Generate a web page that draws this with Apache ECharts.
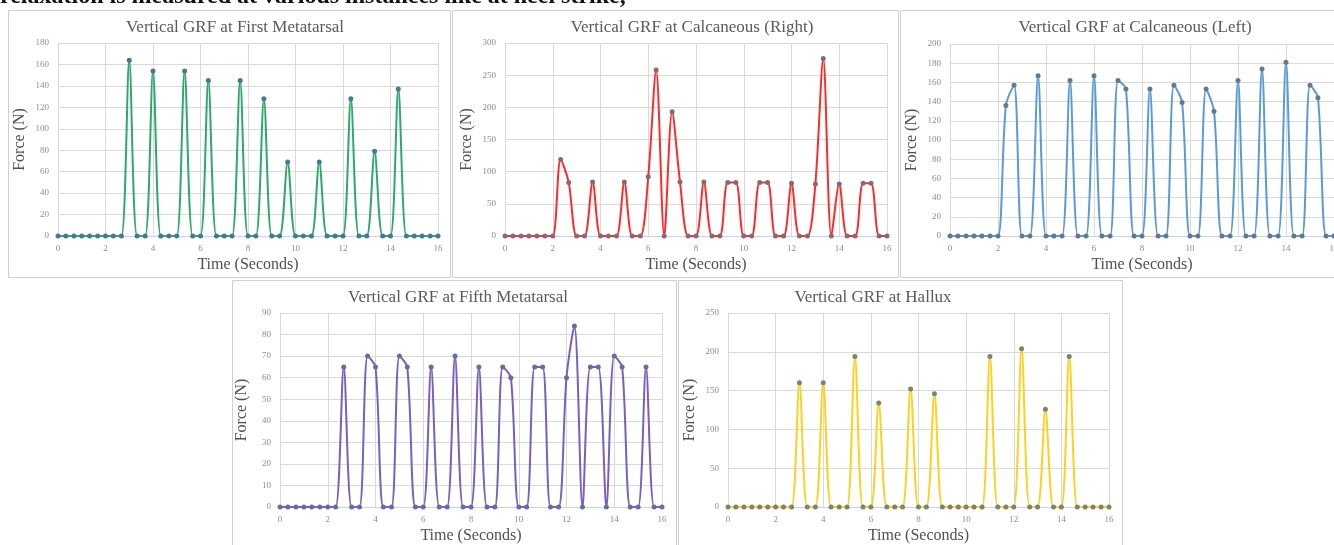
<!DOCTYPE html>
<html>
<head>
<meta charset="utf-8">
<script src="https://cdn.jsdelivr.net/npm/echarts@6/dist/echarts.min.js"></script>
<style>
html,body{margin:0;padding:0;background:#fff;}
#chart{width:1334px;height:545px;}
</style>
</head>
<body>
<div id="chart"></div>
<script>
// Time samples (seconds)
const timeSeconds = [0,0.33,0.67,1,1.33,1.67,2,2.33,2.67,3,3.33,3.67,4,4.33,4.67,5,5.33,5.67,6,6.33,6.67,7,7.33,7.67,8,8.33,8.67,9,9.33,9.67,10,10.33,10.67,11,11.33,11.67,12,12.33,12.67,13,13.33,13.67,14,14.33,14.67,15,15.33,15.67,16];

// Force (N) series
const firstMetatarsal = [0,0,0,0,0,0,0,0,0,164,0,0,154,0,0,0,154,0,0,145,0,0,0,145,0,0,128,0,0,69,0,0,0,69,0,0,0,128,0,0,79,0,0,137,0,0,0,0,0];
const calcaneousRight = [0,0,0,0,0,0,0,119,83,0,0,84,0,0,0,84,0,0,92,258,0,193,84,0,0,84,0,0,83,83,0,0,83,83,0,0,82,0,0,81,276,0,81,0,0,82,82,0,0];
const calcaneousLeft = [0,0,0,0,0,0,0,136,157,0,0,167,0,0,0,162,0,0,167,0,0,162,153,0,0,153,0,0,157,139,0,0,153,130,0,0,162,0,0,174,0,0,181,0,0,157,144,0,0];
const fifthMetatarsal = [0,0,0,0,0,0,0,0,65,0,0,70,65,0,0,70,65,0,0,65,0,0,70,0,0,65,0,0,65,60,0,0,65,65,0,0,60,84,0,65,65,0,70,65,0,0,65,0,0];
const hallux = [0,0,0,0,0,0,0,0,0,160,0,0,160,0,0,0,194,0,0,134,0,0,0,152,0,0,146,0,0,0,0,0,0,194,0,0,0,204,0,0,126,0,0,194,0,0,0,0,0];

// Titles and axis settings
const panelTitles = ["Vertical GRF at First Metatarsal","Vertical GRF at Calcaneous (Right)","Vertical GRF at Calcaneous (Left)","Vertical GRF at Fifth Metatarsal","Vertical GRF at Hallux"];
const yMax = [180, 300, 200, 90, 250];
const yStep = [20, 50, 20, 10, 50];
const xTicks = {min: 0, max: 16, interval: 2};
const xName = "Time (Seconds)";
const yName = "Force (N)";
const topText = "relaxation is measured at various instances like at heel strike,";

const seriesValues = [firstMetatarsal, calcaneousRight, calcaneousLeft, fifthMetatarsal, hallux];
const lineColors = ['#2fa86c', '#ff2b2b', '#5b9bd5', '#7a5fc0', '#ffd01f'];
const markerColors = ['#4a7796', '#876a78', '#67788a', '#6c6c9c', '#7c836e'];

// layout (pixels)
const grids = [
  {left: 58, top: 43, width: 380, height: 193},
  {left: 505, top: 43, width: 382, height: 193},
  {left: 950, top: 44, width: 384, height: 192},
  {left: 280, top: 313, width: 382, height: 194},
  {left: 728, top: 313, width: 381, height: 194}
];
const titlePos = [[230, 14], [687, 14], [1130, 14], [453, 284], [868, 284]];
const panels = [
  [8, 10, 442, 267], [452, 10, 446, 267], [900, 10, 440, 267],
  [232, 280, 444, 270], [678, 280, 444, 270]
];

const serif = '"Liberation Serif", "DejaVu Serif", serif';
const gridColor = '#d9d9d9';

const option = {
  backgroundColor: '#ffffff',
  animation: false,
  title: panelTitles.map((t, i) => ({
    text: t,
    left: titlePos[i][0],
    top: titlePos[i][1],
    textAlign: 'center',
    textStyle: {fontFamily: serif, fontSize: 17, fontWeight: 'normal', color: '#595959'}
  })),
  grid: grids.map(g => Object.assign({containLabel: false, outerBoundsMode: 'none'}, g)),
  xAxis: grids.map((g, i) => ({
    type: 'value', gridIndex: i,
    min: xTicks.min, max: xTicks.max, interval: xTicks.interval,
    name: xName, nameLocation: 'middle', nameGap: 21,
    nameTextStyle: {fontFamily: serif, fontSize: 16, color: '#505050'},
    axisLine: {show: true, lineStyle: {color: '#c9d3df', width: 1}},
    axisTick: {show: false},
    axisLabel: {fontFamily: serif, fontSize: 9, color: '#8c8c8c', margin: 8},
    splitLine: {show: true, lineStyle: {color: gridColor, width: 1}}
  })),
  yAxis: grids.map((g, i) => ({
    type: 'value', gridIndex: i,
    min: 0, max: yMax[i], interval: yStep[i],
    name: yName, nameLocation: 'middle', nameGap: 30, nameRotate: 90,
    nameTextStyle: {fontFamily: serif, fontSize: 16, color: '#505050'},
    axisLine: {show: false},
    axisTick: {show: false},
    axisLabel: {fontFamily: serif, fontSize: 9, color: '#8c8c8c', margin: 9},
    splitLine: {show: true, lineStyle: {color: gridColor, width: 1}}
  })),
  series: seriesValues.map((vals, i) => ({
    type: 'line', xAxisIndex: i, yAxisIndex: i,
    data: timeSeconds.map((t, k) => [t, vals[k]]),
    smooth: 0.3,
    symbol: 'circle', symbolSize: 5,
    lineStyle: {color: lineColors[i], width: 2},
    itemStyle: {color: markerColors[i]},
    clip: false,
    z: 3
  })),
  graphic: panels.map(p => ({
    type: 'rect', z: -10, silent: true,
    shape: {x: p[0] + 0.5, y: p[1] + 0.5, width: p[2], height: p[3]},
    style: {fill: 'none', stroke: '#cfcfcf', lineWidth: 1}
  })).concat([{
    type: 'text', left: 0, top: -15, silent: true,
    style: {text: topText, font: 'bold 24px "Liberation Serif", serif', fill: '#111'}
  }])
};

const chart = echarts.init(document.getElementById('chart'), null, {renderer: 'canvas'});
chart.setOption(option);
</script>
</body>
</html>
